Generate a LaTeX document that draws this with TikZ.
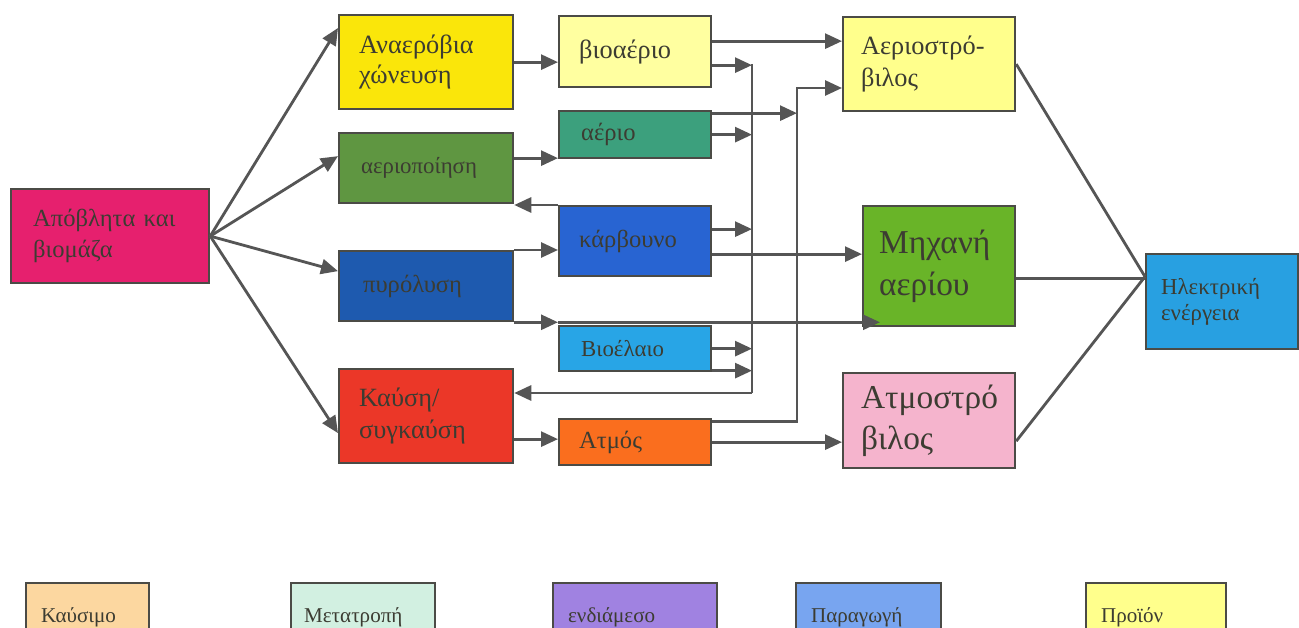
\documentclass[tikz,border=0pt]{standalone}
\usepackage{fontspec}
\setmainfont{Liberation Serif}
\usetikzlibrary{arrows.meta,calc}
\definecolor{bordc}{RGB}{75,75,70}
\definecolor{linec}{RGB}{85,85,85}
\definecolor{txtc}{RGB}{60,60,50}
\definecolor{cSrc}{RGB}{230,32,110}
\definecolor{cAnaer}{RGB}{250,230,10}
\definecolor{cBiogas}{RGB}{255,255,160}
\definecolor{cGasif}{RGB}{95,150,65}
\definecolor{cGas}{RGB}{60,160,125}
\definecolor{cChar}{RGB}{40,100,210}
\definecolor{cPyro}{RGB}{30,90,175}
\definecolor{cOil}{RGB}{40,165,230}
\definecolor{cComb}{RGB}{235,55,40}
\definecolor{cSteam}{RGB}{250,110,30}
\definecolor{cGT}{RGB}{255,255,140}
\definecolor{cEng}{RGB}{105,180,40}
\definecolor{cST}{RGB}{245,180,205}
\definecolor{cElec}{RGB}{40,160,225}
\definecolor{lFuel}{RGB}{252,215,160}
\definecolor{lConv}{RGB}{210,240,225}
\definecolor{lInter}{RGB}{160,130,225}
\definecolor{lProd}{RGB}{120,165,240}
\definecolor{lOut}{RGB}{255,255,140}
\begin{document}
\begin{tikzpicture}[x=0.02cm,y=-0.02cm,
  box/.style={draw=bordc, line width=1.3pt, anchor=north west, inner ysep=0pt, align=left, text=txtc, font=\fontsize{14}{17}\selectfont},
  arr/.style={draw=linec, line width=1.6pt, -{Triangle[length=0.34cm,width=0.3cm]}},
  ln/.style={draw=linec, line width=1.6pt}]
\useasboundingbox (0,0) rectangle (1299,628);
\fill[white] (0,0) rectangle (1299,628);
% boxes
\node[box, fill=cSrc, minimum width=3.96cm, minimum height=1.88cm, text width=3.08cm, inner xsep=0.44cm, font=\fontsize{14}{18}\selectfont] (src) at (10,188) {Απόβλητα και\\βιομάζα};
\node[box, fill=cAnaer, minimum width=3.48cm, minimum height=1.88cm, text width=2.68cm, inner xsep=0.4cm, font=\fontsize{15}{17}\selectfont] (anaer) at (338,14) {Αναερόβια\\χώνευση};
\node[box, fill=cBiogas, minimum width=3.04cm, minimum height=1.42cm, text width=2.24cm, inner xsep=0.4cm, font=\fontsize{15}{17}\selectfont] (biogas) at (558,15) {βιοαέριο};
\node[box, fill=cGasif, minimum width=3.48cm, minimum height=1.40cm, text width=2.6cm, inner xsep=0.44cm, font=\fontsize{13}{16}\selectfont] (gasif) at (338,132) {αεριοποίηση};
\node[box, fill=cGas, minimum width=3.04cm, minimum height=0.94cm, text width=2.16cm, inner xsep=0.44cm] (gas) at (558,110) {αέριο};
\node[box, fill=cChar, minimum width=3.04cm, minimum height=1.40cm, text width=2.24cm, inner xsep=0.4cm] (char) at (558,205) {κάρβουνο};
\node[box, fill=cPyro, minimum width=3.48cm, minimum height=1.40cm, text width=2.52cm, inner xsep=0.48cm] (pyro) at (338,250) {πυρόλυση};
\node[box, fill=cOil, minimum width=3.04cm, minimum height=0.90cm, text width=2.16cm, inner xsep=0.44cm, font=\fontsize{13}{16}\selectfont] (oil) at (558,325) {Βιοέλαιο};
\node[box, fill=cComb, minimum width=3.48cm, minimum height=1.88cm, text width=2.68cm, inner xsep=0.4cm, font=\fontsize{15}{18}\selectfont] (comb) at (338,368) {Καύση/\\συγκαύση};
\node[box, fill=cSteam, minimum width=3.04cm, minimum height=0.92cm, text width=2.24cm, inner xsep=0.4cm] (steam) at (558,418) {Ατμός};
\node[box, fill=cGT, minimum width=3.44cm, minimum height=1.88cm, text width=2.72cm, inner xsep=0.36cm, font=\fontsize{15}{18}\selectfont] (gt) at (842,16) {Αεριοστρό-\\βιλος};
\node[box, fill=cEng, minimum width=3.04cm, minimum height=2.40cm, text width=2.40cm, inner xsep=0.32cm, font=\fontsize{19}{24}\selectfont] (eng) at (862,205) {Μηχανή\\αερίου};
\node[box, fill=cST, minimum width=3.44cm, minimum height=1.90cm, text width=2.72cm, inner xsep=0.36cm, font=\fontsize{19}{23}\selectfont] (st) at (842,372) {Ατμοστρό\\βιλος};
\node[box, fill=cElec, minimum width=3.04cm, minimum height=1.90cm, text width=2.44cm, inner xsep=0.3cm, font=\fontsize{13}{15}\selectfont] (elec) at (1145,253) {Ηλεκτρική\\ενέργεια};
% legend
\begin{scope}
\clip (0,0) rectangle (1299,628);
\node[box, fill=lFuel, minimum width=2.46cm, minimum height=1.36cm, text width=1.86cm, inner xsep=0.3cm, font=\fontsize{12}{14}\selectfont] (lg1) at (25,582) {Καύσιμο};
\node[box, fill=lConv, minimum width=2.88cm, minimum height=1.36cm, text width=2.36cm, inner xsep=0.26cm, font=\fontsize{12}{14}\selectfont] (lg2) at (290,582) {Μετατροπή};
\node[box, fill=lInter, minimum width=3.28cm, minimum height=1.36cm, text width=2.68cm, inner xsep=0.3cm, font=\fontsize{12}{14}\selectfont] (lg3) at (552,582) {ενδιάμεσο};
\node[box, fill=lProd, minimum width=2.9cm, minimum height=1.36cm, text width=2.3cm, inner xsep=0.3cm, font=\fontsize{12}{14}\selectfont] (lg4) at (795,582) {Παραγωγή};
\node[box, fill=lOut, minimum width=2.8cm, minimum height=1.36cm, text width=2.2cm, inner xsep=0.3cm, font=\fontsize{12}{14}\selectfont] (lg5) at (1085,582) {Προϊόν};
\end{scope}
% helper coordinates
\coordinate (v1top) at (752,64);
\coordinate (v1bot) at (752,393);
\coordinate (v2top) at (797,88);
% fan from source
\draw[arr] (src.east) -- ([yshift=-0.28cm]anaer.north west);
\draw[arr] (src.east) -- ([yshift=0.24cm]gasif.west);
\draw[arr] (src.east) -- ([yshift=0.3cm]pyro.west);
\draw[arr] (src.east) -- ([yshift=-0.34cm]comb.west);
% conversions to intermediates
\draw[arr] (anaer.east) -- (anaer.east -| biogas.west);
\draw[arr] ([yshift=0.2cm]gasif.east) -- ([yshift=0.2cm]gasif.east -| gas.west);
\draw[arr] (char.north west) -- (char.north west -| gasif.east);
\draw[arr] (pyro.north east) -- (pyro.north east -| char.west);
\draw[arr] (pyro.south east) -- (pyro.south east -| oil.west);
\draw[arr] (pyro.south east -| oil.west) -- ($(pyro.south east -| eng.west)+(18,0)$);
\draw[arr] ([yshift=-0.46cm]comb.east) -- ([yshift=-0.46cm]comb.east -| steam.west);
% intermediates to right
\draw[arr] ([yshift=0.21cm]biogas.east) -- ([yshift=0.21cm]biogas.east -| gt.west);
\draw[arr] ([yshift=-0.27cm]biogas.east) -- ([yshift=-0.27cm]biogas.east -| v1top);
\draw[arr] ([yshift=0.43cm]gas.east) -- ([yshift=0.43cm]gas.east -| v2top);
\draw[arr] (gas.east) -- (gas.east -| v1top);
\draw[arr] ([yshift=0.24cm]char.east) -- ([yshift=0.24cm]char.east -| v1top);
\draw[arr] ([yshift=-0.26cm]char.east) -- ([yshift=-0.26cm]char.east -| eng.west);
\draw[arr] (oil.east) -- (oil.east -| v1top);
\draw[arr] ([yshift=-0.44cm]oil.east) -- ([yshift=-0.44cm]oil.east -| v1top);
\draw[ln] (v1top) -- (v1bot);
\draw[arr] (v1bot) -- (v1bot -| comb.east);
\draw[arr] ([yshift=0.42cm]steam.east) -| (v2top) -- (v2top -| gt.west);
\draw[arr] (steam.east) -- (steam.east -| st.west);
% to electricity
\coordinate (J) at ([yshift=0.5cm]elec.west);
\draw[ln] (gt.east) -- (J);
\draw[ln] ([yshift=-0.24cm]eng.east) -- ([yshift=-0.24cm]eng.east -| J);
\draw[ln] ([yshift=-0.41cm]st.east) -- (J);
\end{tikzpicture}
\end{document}
